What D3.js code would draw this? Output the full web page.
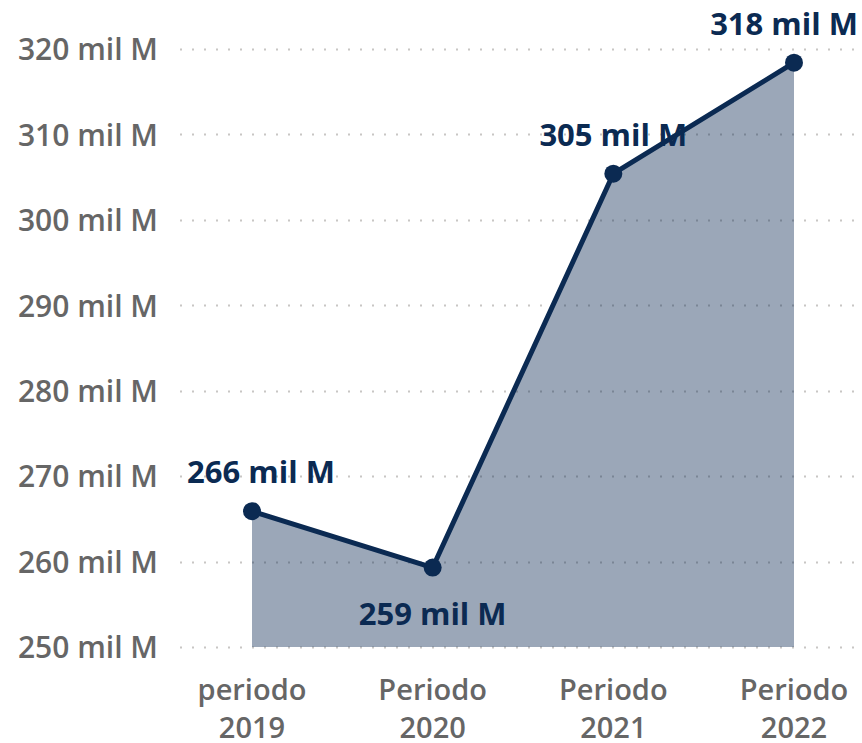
<!DOCTYPE html>
<html>
<head>
<meta charset="utf-8">
<script src="https://cdn.jsdelivr.net/npm/d3@7"></script>
<style>
  body { margin: 0; background: #fff; }
  text { font-family: "Open Sans", "Noto Sans", sans-serif; }
</style>
</head>
<body>
<svg id="view"></svg>
<script>
// data (mil M)
const periods = ["periodo 2019", "Periodo 2020", "Periodo 2021", "Periodo 2022"];
const values = [265.9, 259.3, 305.4, 318.4];
const labelSide = ["above", "below", "above", "above"];
const yTicks = [250, 260, 270, 280, 290, 300, 310, 320];

const W = 862, H = 743;
const margin = {top: 49, right: 0, bottom: 96, left: 180};

const svg = d3.select('#view').attr('width', W).attr('height', H);

const x = d3.scalePoint().domain(periods).range([252, 794]);
const y = d3.scaleLinear().domain([250, 320]).range([H - margin.bottom, margin.top]);

const lineColor = '#0b2a52';
const gray = '#666666';

// grid
svg.append('g')
  .selectAll('line')
  .data(yTicks)
  .join('line')
  .attr('x1', margin.left)
  .attr('x2', W)
  .attr('y1', d => Math.round(y(d)) + 0.5)
  .attr('y2', d => Math.round(y(d)) + 0.5)
  .attr('stroke', '#c8c6c4')
  .attr('stroke-width', 2)
  .attr('stroke-dasharray', '2 10');

// y axis labels
const yAxis = d3.axisLeft(y).tickValues(yTicks).tickSize(0).tickPadding(0)
  .tickFormat(d => d + ' mil M');
svg.append('g')
  .attr('transform', `translate(158,0)`)
  .call(yAxis)
  .call(g => g.select('.domain').remove())
  .call(g => g.selectAll('text')
    .attr('fill', gray)
    .style('font-size', '30px')
    .style('font-weight', 600)
    .attr('dy', '0.36em'));

// x axis labels (two lines)
const xg = svg.append('g');
periods.forEach(p => {
  const parts = p.split(' ');
  const t = xg.append('text')
    .attr('text-anchor', 'middle')
    .attr('fill', gray)
    .style('font-size', '29px')
    .style('font-weight', 600);
  t.append('tspan').attr('x', x(p)).attr('y', 700).text(parts[0]);
  t.append('tspan').attr('x', x(p)).attr('y', 738).text(parts[1]);
});

const pts = periods.map((p, i) => ({p, v: values[i], side: labelSide[i]}));

// area
const area = d3.area()
  .x(d => x(d.p))
  .y0(y(250))
  .y1(d => y(d.v));
svg.append('path')
  .datum(pts)
  .attr('d', area)
  .attr('fill', lineColor)
  .attr('fill-opacity', 0.41);

// line
const line = d3.line().x(d => x(d.p)).y(d => y(d.v));
svg.append('path')
  .datum(pts)
  .attr('d', line)
  .attr('fill', 'none')
  .attr('stroke', lineColor)
  .attr('stroke-width', 5)
  .attr('stroke-linejoin', 'round');

// dots
svg.selectAll('.dot')
  .data(pts)
  .join('circle')
  .attr('class', 'dot')
  .attr('cx', d => x(d.p))
  .attr('cy', d => y(d.v))
  .attr('r', 9)
  .attr('fill', lineColor);

// data labels, kept inside the plot area
svg.selectAll('.label')
  .data(pts)
  .join('text')
  .attr('class', 'label')
  .attr('text-anchor', 'middle')
  .attr('fill', lineColor)
  .style('font-size', '31px')
  .style('font-weight', 700)
  .attr('y', d => d.side === 'above' ? y(d.v) - 28 : y(d.v) + 57)
  .text(d => Math.round(d.v) + ' mil M')
  .attr('x', function(d) {
    const w = this.getComputedTextLength();
    return Math.max(margin.left + 7 + w / 2, Math.min(W - 4 - w / 2, x(d.p)));
  });
</script>
</body>
</html>
